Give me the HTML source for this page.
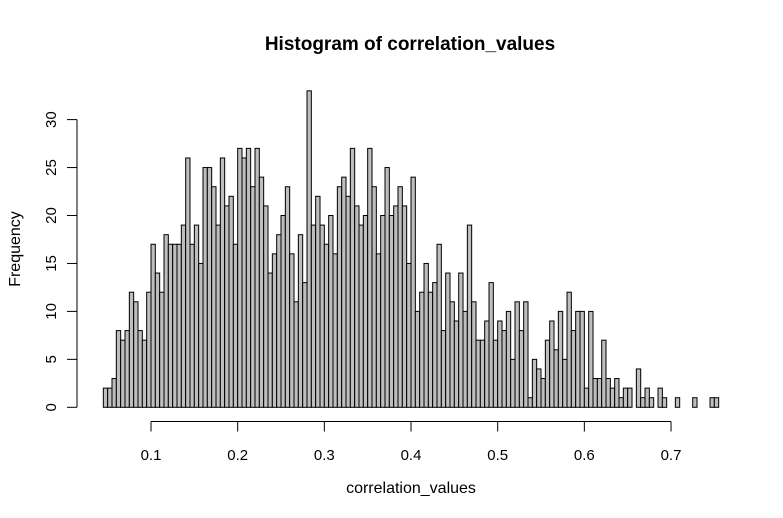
<!DOCTYPE html>
<html><head><meta charset="utf-8"><style>
html,body{margin:0;padding:0;background:#fff;}
svg{display:block;font-family:"Liberation Sans",Arial,sans-serif;}
</style></head><body>
<svg id="chart" width="783" height="518" viewBox="0 0 783 518" xmlns="http://www.w3.org/2000/svg">
<text x="410" y="50" text-anchor="middle" font-size="19" font-weight="bold">Histogram of correlation_values</text>
<text x="411" y="493" text-anchor="middle" font-size="16">correlation_values</text>
<text x="0" y="0" transform="translate(20,249) rotate(-90)" text-anchor="middle" font-size="16">Frequency</text>
<g id="bars"></g>
<g id="xaxis"></g>
<g id="yaxis"></g>
</svg>
<script>
const binStart = 0.045;
const binWidth = 0.005;
const counts = [2,2,3,8,7,8,12,11,8,7,12,17,14,12,18,17,17,17,19,26,17,19,15,25,25,23,19,26,21,22,17,27,26,27,23,
27,24,21,14,16,18,20,23,16,11,18,13,33,19,22,19,17,20,16,23,24,22,27,21,19,20,27,23,16,20,25,20,21,23,21,15,
24,10,12,15,12,13,17,8,14,11,9,14,10,19,11,7,7,9,13,7,9,8,10,5,11,8,11,1,5,4,3,7,9,6,10,
5,12,8,10,10,2,10,3,3,7,3,2,3,1,2,2,0,4,1,2,1,0,2,1,0,0,1,0,0,0,1,0,0,0,1,1];
const xTicks = [0.1,0.2,0.3,0.4,0.5,0.6,0.7];
const xTickLabels = ["0.1","0.2","0.3","0.4","0.5","0.6","0.7"];
const yTicks = [0,5,10,15,20,25,30];

const NS = "http://www.w3.org/2000/svg";
function X(v){ return 151 + (v - 0.1) * 866.7; }
function Y(v){ return 407.3 - v * 9.59; }
function mk(tag, attrs){ const e = document.createElementNS(NS, tag); for (const k in attrs) e.setAttribute(k, attrs[k]); return e; }

const bars = document.getElementById('bars');
counts.forEach((c, i) => {
  if (c <= 0) return;
  const x0 = X(binStart + i * binWidth), x1 = X(binStart + (i + 1) * binWidth);
  const r = mk('rect', {x: x0, y: Y(c), width: x1 - x0, height: Y(0) - Y(c), fill: '#bebebe', stroke: '#000', 'stroke-width': 1});
  
  
  bars.appendChild(r);
});

const xa = document.getElementById('xaxis');
const xl = mk('line', {x1: X(xTicks[0]), x2: X(xTicks[xTicks.length-1]), y1: 421.5, y2: 421.5, stroke: '#000'});


xa.appendChild(xl);
xTicks.forEach((t, i) => {
  const tk = mk('line', {x1: X(t), x2: X(t), y1: 421.5, y2: 431.5, stroke: '#000'});
  
  
  xa.appendChild(tk);
  const tx = mk('text', {x: X(t), y: 460, 'text-anchor': 'middle', 'font-size': 15});
  
  
  tx.textContent = xTickLabels[i];
  xa.appendChild(tx);
});

const ya = document.getElementById('yaxis');
const yl = mk('line', {x1: 77, x2: 77, y1: Y(yTicks[0]), y2: Y(yTicks[yTicks.length-1]), stroke: '#000'});


ya.appendChild(yl);
yTicks.forEach(t => {
  const tk = mk('line', {x1: 67, x2: 77, y1: Y(t), y2: Y(t), stroke: '#000'});
  
  
  ya.appendChild(tk);
  const tx = mk('text', {x: 0, y: 0, transform: 'translate(56,' + Y(t) + ') rotate(-90)', 'text-anchor': 'middle', 'font-size': 15});
  
  
  tx.textContent = String(t);
  ya.appendChild(tx);
});
</script>
</body></html>
